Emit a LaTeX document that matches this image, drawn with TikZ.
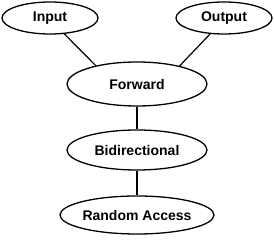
\documentclass[tikz,border=0pt]{standalone}
\usepackage{fontspec}
\setmainfont{Liberation Sans}
\usetikzlibrary{shapes.geometric}
\begin{document}
\begin{tikzpicture}[x=1pt,y=1pt,
  oval/.style={ellipse,draw,line width=1.3pt,inner sep=0pt,font=\fontsize{14}{16}\selectfont\bfseries},
  small/.style={oval,minimum width=96pt,minimum height=32pt},
  big/.style={oval,minimum width=140pt,minimum height=40pt},
  link/.style={line width=1.2pt}]
\useasboundingbox (0,0) rectangle (274,241);
\node[small] (in) at (50,223) {Input};
\node[small] (out) at (224,223) {Output};
\node[big,minimum height=44pt] (fw) at (137,157) {Forward};
\node[big] (bi) at (137,91) {Bidirectional};
\node[big,minimum height=38pt] (ra) at (137,26) {Random Access};
\draw[link] (in.-48) -- (fw.156);
\draw[link] (out.-131) -- (fw.23);
\draw[link] (fw) -- (bi);
\draw[link] (bi) -- (ra);
\end{tikzpicture}
\end{document}
